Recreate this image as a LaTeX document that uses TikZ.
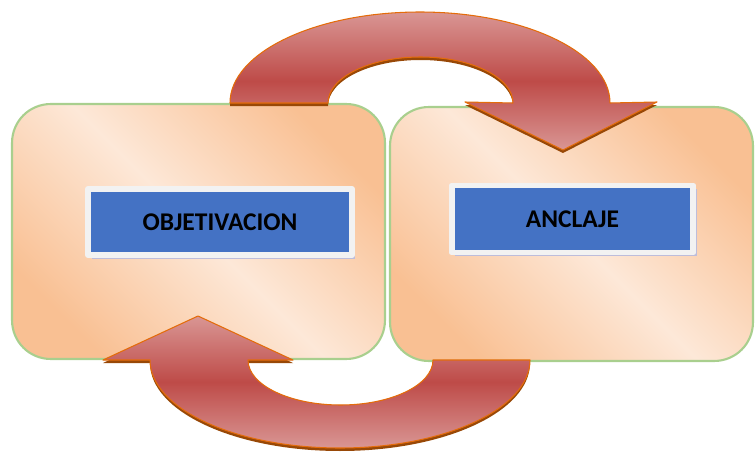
\documentclass[tikz,border=0pt]{standalone}
\usepackage{fontspec}
\setmainfont{Carlito}
\usetikzlibrary{shadows}
\definecolor{peach}{HTML}{F9C093}
\definecolor{peachlight}{HTML}{FDE8D8}
\definecolor{boxedge}{HTML}{A9CF8E}
\definecolor{bluefill}{HTML}{4472C4}
\definecolor{frame}{HTML}{F2F2F2}
\definecolor{arrowdark}{HTML}{BE4B48}
\definecolor{arrowlight}{HTML}{D99694}
\definecolor{arrowedge}{HTML}{E46C0A}
\definecolor{arrowshade}{HTML}{984807}
\newcommand{\toparrow}{(230,103) arc[start angle=180,end angle=360,x radius=190,y radius=91] -- (657,102) -- (563,150) -- (465,102) -- (513,103) arc[start angle=360,end angle=180,x radius=92.5,y radius=46] -- cycle}
\newcommand{\botarrow}{(530,360) arc[start angle=0,end angle=180,x radius=190,y radius=88] -- (103,360) -- (198,316) -- (293,360) -- (248,360) arc[start angle=180,end angle=0,x radius=92.5,y radius=45] -- cycle}
\begin{document}
\begin{tikzpicture}[x=0.02cm,y=-0.02cm,line join=round]
				\tikzset{bigbox/.style={draw=boxedge,line width=1.2pt,rounded corners=22pt,top color=peach,bottom color=peach,middle color=peachlight,shading angle=-45},
					labelbox/.style={fill=bluefill,draw=frame,line width=3.4pt,drop shadow={shadow xshift=2pt,shadow yshift=-2pt,fill=gray!70!blue!40,opacity=1},font=\fontsize{14.5}{16}\selectfont\bfseries,text=black},
					turnarrow/.style={draw=arrowedge,line width=0.6pt,top color=arrowlight,bottom color=arrowlight,middle color=arrowdark}}
				\useasboundingbox (0,0) rectangle (755,453);
				\node[bigbox,minimum width=7.46cm,minimum height=5.1cm] (boxobj) at (198.5,231.5) {};
				\node[bigbox,minimum width=7.26cm,minimum height=5.08cm] (boxanc) at (571.5,234) {};
				% flechas
				\fill[arrowshade,shift={(0,3)}] \toparrow;
				\path[turnarrow] \toparrow;
				\fill[arrowshade,shift={(0,3)}] \botarrow;
				\path[turnarrow] \botarrow;
				\node[labelbox,minimum width=5.28cm,minimum height=1.32cm] (objetivacion) at (220,222) {OBJETIVACION};
				\node[labelbox,minimum width=4.84cm,minimum height=1.34cm] (anclaje) at (572.5,219) {ANCLAJE};
			\end{tikzpicture}
\end{document}
